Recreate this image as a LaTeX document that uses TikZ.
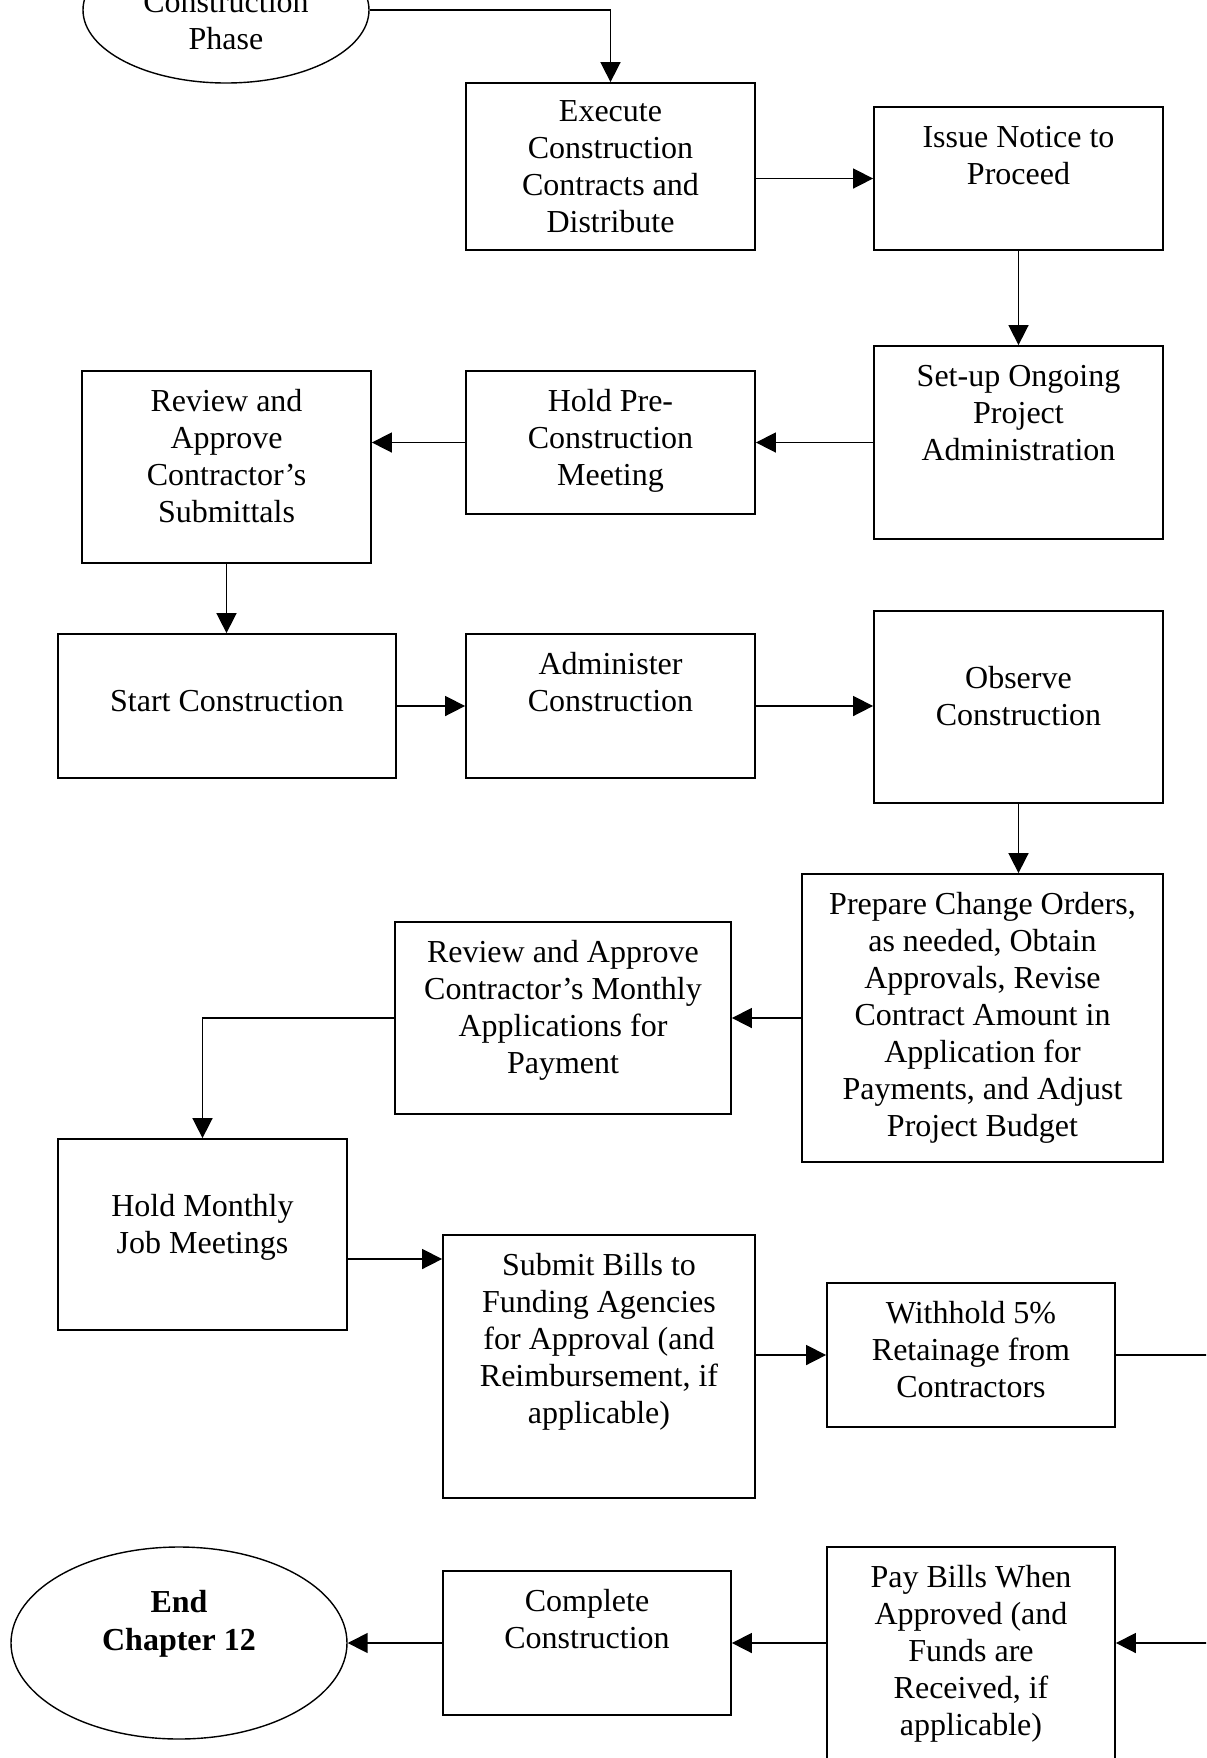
\documentclass[tikz,border=0pt]{standalone}
\usepackage{fontspec}
\setmainfont{Liberation Serif}
\usetikzlibrary{arrows.meta,calc,shapes.geometric}

% flow step: name, left, top, right, bottom, baseline offset of the last text line, text
\newcommand\flowbox[7]{%
  \node[box, minimum width={(#4-#2)*0.5pt}, minimum height={(#5-#3)*0.5pt}]
    (#1) at ({(#2+#4)/2},{(#3+#5)/2}) {};
  \node[txt, anchor=base] (#1-t) at ({(#2+#4)/2},{#3+#6}) {#7};
}

\begin{document}
\begin{tikzpicture}[x=0.5pt,y=-0.5pt,
  box/.style={draw, line width=0.9pt, inner sep=0pt, rectangle},
  oval/.style={draw, line width=0.7pt, ellipse, inner sep=0pt},
  txt/.style={align=center, inner sep=0pt, font=\fontsize{16}{18.5}\selectfont},
  link/.style={line width=0.8pt},
  arr/.style={link, -{Triangle[length=10pt,width=10pt]}},
]
\useasboundingbox (0,0) rectangle (1206,1758);
\fill[white] (0,0) rectangle (1206,1758);
\clip (0,0) rectangle (1206,1758);

% start and end ovals
\node[oval, minimum width=143pt, minimum height=73pt] (top) at (226,10) {};
\node[txt, anchor=base] (top-t) at (226,49) {Construction\\Phase};

\node[oval, minimum width=168pt, minimum height=96pt] (endoval) at (179,1643) {};
\node[txt, anchor=base, font=\fontsize{16}{19}\selectfont\bfseries] (endoval-t) at (179,1650) {End\\Chapter 12};

% process steps
\flowbox{exec}{466}{83}{755}{250}{149}{Execute\\Construction\\Contracts and\\Distribute}
\flowbox{issue}{874}{107}{1163}{250}{77}{Issue Notice to\\Proceed}
\flowbox{setup}{874}{346}{1163}{539}{114}{Set-up Ongoing\\Project\\Administration}
\flowbox{holdpre}{466}{371}{755}{514}{114}{Hold Pre-\\Construction\\Meeting}
\flowbox{subm}{82}{371}{371}{563}{151}{Review and\\Approve\\Contractor’s\\Submittals}
\flowbox{start}{58}{634}{396}{778}{77}{Start Construction}
\flowbox{admin}{466}{634}{755}{778}{77}{Administer\\Construction}
\flowbox{observe}{874}{611}{1163}{803}{114}{Observe\\Construction}
\flowbox{change}{802}{874}{1163}{1162}{262}{Prepare Change Orders,\\as needed, Obtain\\Approvals, Revise\\Contract Amount in\\Application for\\Payments, and Adjust\\Project Budget}
\flowbox{monthly}{395}{922}{731}{1114}{151}{Review and Approve\\Contractor’s Monthly\\Applications for\\Payment}
\flowbox{holdmon}{58}{1139}{347}{1330}{114}{Hold Monthly\\Job Meetings}
\flowbox{submit}{443}{1235}{755}{1498}{188}{Submit Bills to\\Funding Agencies\\for Approval (and\\Reimbursement, if\\applicable)}
\flowbox{withhold}{827}{1283}{1115}{1427}{114}{Withhold 5\%\\Retainage from\\Contractors}
\flowbox{pay}{827}{1547}{1115}{1790}{188}{Pay Bills When\\Approved (and\\Funds are\\Received, if\\applicable)}
\flowbox{complete}{443}{1571}{731}{1715}{77}{Complete\\Construction}

% connectors
\draw[arr] (top.east) -| (exec.north);
\draw[arr] (exec.east |- issue.west) -- (issue.west);
\draw[arr] (issue.south) -- (setup.north);
\draw[arr] (setup.west) -- (holdpre.east);
\draw[arr] (holdpre.west) -- (holdpre.west -| subm.east);
\draw[arr] (subm.south) -- (subm.south |- start.north);
\draw[arr] (start.east) -- (admin.west);
\draw[arr] (admin.east) -- (admin.east -| observe.west);
\draw[arr] (observe.south) -- (observe.south |- change.north);
\draw[arr] (change.west) -- (change.west -| monthly.east);
\draw[arr] (monthly.west) -| (holdmon.north);
\coordinate (hmout) at (347,1259);
\draw[arr] (hmout) -- (hmout -| submit.west);
\draw[arr] (submit.east |- withhold.west) -- (withhold.west);
\draw[arr] (withhold.east) -- ++(130,0) |- (pay.east |- complete.east);
\draw[arr] (pay.west |- complete.east) -- (complete.east);
\draw[arr] (complete.west) -- (endoval.east);
\end{tikzpicture}
\end{document}
